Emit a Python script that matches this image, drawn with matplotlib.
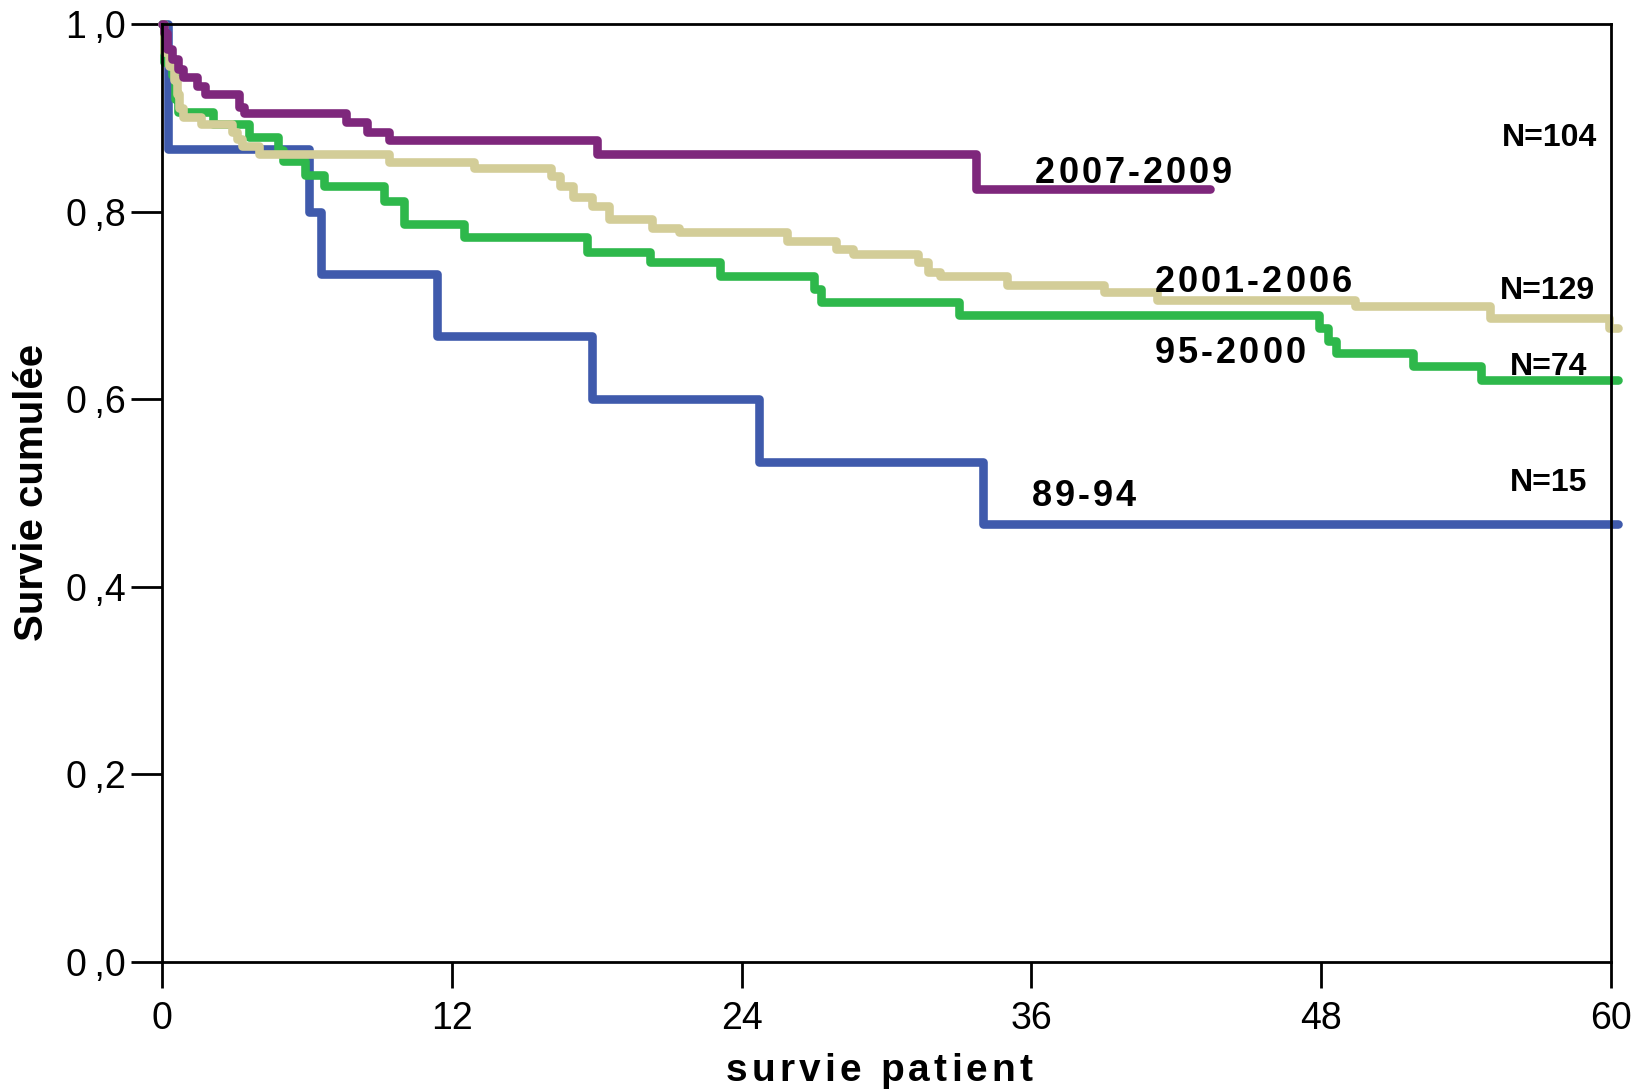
import numpy as np
import matplotlib
matplotlib.use('Agg')
import matplotlib.pyplot as plt
from matplotlib import font_manager
from matplotlib.ft2font import FT2Font
from matplotlib.transforms import offset_copy
from matplotlib.ticker import FuncFormatter

plt.rcParams['font.family'] = ['Liberation Sans', 'DejaVu Sans']

# Kaplan-Meier steps: months, cumulative survival
t_8994 = [0, 0.25, 6.1, 6.6, 11.4, 17.8, 24.7, 34.0, 60.3]
s_8994 = [1.0, 0.867, 0.800, 0.733, 0.667, 0.600, 0.533, 0.467, 0.467]

t_9500 = [0, 0.1, 0.4, 0.55, 0.65, 2.1, 3.6, 4.8, 5.0, 5.9, 6.7, 9.2, 10.0,
          12.5, 17.6, 20.2, 23.1, 27.0, 27.3, 33.0, 47.9, 48.3, 48.6, 51.8,
          54.6, 60.3]
s_9500 = [1.0, 0.96, 0.946, 0.92, 0.906, 0.893, 0.879, 0.866, 0.854, 0.839,
          0.827, 0.811, 0.787, 0.773, 0.757, 0.746, 0.731, 0.717, 0.704,
          0.690, 0.676, 0.662, 0.649, 0.635, 0.621, 0.621]

t_0106 = [0, 0.1, 0.3, 0.5, 0.6, 0.7, 0.85, 1.6, 2.9, 3.1, 3.3, 4.0, 9.4,
          12.9, 16.1, 16.5, 17.0, 17.8, 18.5, 20.3, 21.4, 25.9, 27.9, 28.6,
          31.3, 31.7, 32.2, 35.0, 39.0, 41.2, 49.4, 55.0, 59.9, 60.3]
s_0106 = [1.0, 0.97, 0.955, 0.94, 0.925, 0.91, 0.901, 0.893, 0.885, 0.877,
          0.870, 0.861, 0.853, 0.847, 0.838, 0.827, 0.816, 0.806, 0.792,
          0.783, 0.778, 0.769, 0.760, 0.755, 0.746, 0.736, 0.731, 0.722,
          0.714, 0.706, 0.699, 0.687, 0.676, 0.676]

t_0709 = [0, 0.1, 0.2, 0.4, 0.65, 0.87, 1.45, 1.78, 3.2, 3.4, 7.6, 8.5, 9.4,
          18.0, 33.7, 43.4]
s_0709 = [1.0, 0.99, 0.973, 0.963, 0.952, 0.943, 0.934, 0.925, 0.912, 0.905,
          0.895, 0.885, 0.876, 0.861, 0.824, 0.824]

series = [(t_8994, s_8994, '#3f5aac'),
          (t_9500, s_9500, '#2eb84b'),
          (t_0106, s_0106, '#d3cd98'),
          (t_0709, s_0709, '#7e277c')]

group_labels = ['89-94', '95-2000', '2001-2006', '2007-2009']
group_x = [36.0, 41.1, 41.1, 36.15]
group_y = [0.486, 0.639, 0.714, 0.831]

n_labels = ['N=15', 'N=74', 'N=129', 'N=104']
n_x = [55.8, 55.8, 55.4, 55.5]
n_y = [0.502, 0.626, 0.707, 0.870]

fig = plt.figure(figsize=(16.4, 10.9), dpi=100)
ax = fig.add_axes([0.0988, 0.1174, 0.8835, 0.8606])


def spaced_text(x, y, s, size, gap, transform, center=False):
    # matplotlib has no letter-spacing, so place glyphs one by one
    fp = font_manager.FontProperties(family='Liberation Sans', weight='bold', size=size)
    ft = FT2Font(font_manager.findfont(fp))
    ft.set_size(size, 72)
    adv = [ft.load_char(ord(c)).linearHoriAdvance / 65536 for c in s]
    dx = -(sum(adv) + gap * (len(s) - 1)) / 2 if center else 0
    for c, a in zip(s, adv):
        tr = offset_copy(transform, fig=fig, x=dx, y=0, units='points')
        fig.text(x, y, c, transform=tr, fontproperties=fp, ha='left', va='baseline')
        dx += a + gap


for t, s, c in series:
    ax.plot(t, s, drawstyle='steps-post', color=c, lw=6.2,
            solid_capstyle='round', solid_joinstyle='round', clip_on=False)

for lab, x, y in zip(group_labels, group_x, group_y):
    spaced_text(x, y, lab, 26, 2.2, ax.transData)

for lab, x, y in zip(n_labels, n_x, n_y):
    ax.text(x, y, lab, fontsize=23, fontweight='bold', ha='left', va='baseline')

ax.set_xlim(0, 60)
ax.set_ylim(0, 1.0)
ax.set_xticks([0, 12, 24, 36, 48, 60])
ax.set_yticks([0, 0.2, 0.4, 0.6, 0.8, 1.0])
ax.yaxis.set_major_formatter(
    FuncFormatter(lambda v, p: f'{v:.1f}'.replace('.', '\u2009,')))
ax.tick_params(axis='y', length=22, width=2, pad=4, labelsize=27)
ax.tick_params(axis='x', length=19, width=2, pad=9, labelsize=27)
for sp in ax.spines.values():
    sp.set_linewidth(2)

fig.text(0.0195, 0.548, 'Survie cumulée', rotation=90, fontsize=29,
         fontweight='bold', ha='center', va='center')
spaced_text(0.536, 0.0083, 'survie patient', 28, 3.0, fig.transFigure, center=True)

fig.savefig('out.png', dpi=100)
